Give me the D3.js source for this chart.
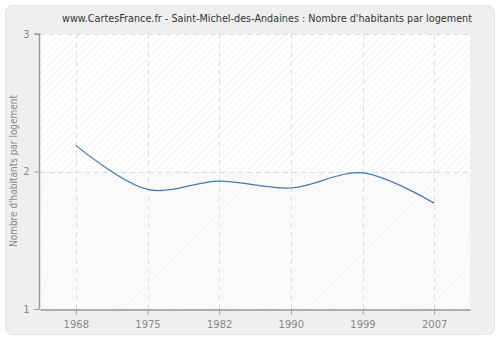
<!DOCTYPE html>
<html>
<head>
<meta charset="utf-8">
<script src="https://cdn.jsdelivr.net/npm/d3@7"></script>
<style>
  html, body { margin: 0; padding: 0; background: #ffffff; }
  svg { display: block; font-family: "DejaVu Sans", Verdana, sans-serif; }
</style>
</head>
<body>
<svg id="chart" width="500" height="340"></svg>
<script>
// Census years and average household size
const years = ["1968", "1975", "1982", "1990", "1999", "2007"];
const values = [2.19, 1.87, 1.93, 1.88, 1.99, 1.77];
const yTicks = [1, 2, 3];
const title = "www.CartesFrance.fr - Saint-Michel-des-Andaines : Nombre d'habitants par logement";
const yLabel = "Nombre d'habitants par logement";

const svg = d3.select("#chart");
const W = 500, H = 340;
const plot = { left: 40, right: 470, top: 34, bottom: 309 };

// outer panel
svg.append("rect")
  .attr("x", 5.5).attr("y", 5.5)
  .attr("width", W - 11).attr("height", H - 11)
  .attr("rx", 7).attr("ry", 7)
  .attr("fill", "#efefef")
  .attr("stroke", "#e2e2e2");

// hatch patterns for the plotting area
const defs = svg.append("defs");
function hatch(id, bg, line) {
  const p = defs.append("pattern")
    .attr("id", id)
    .attr("patternUnits", "userSpaceOnUse")
    .attr("width", 5).attr("height", 5)
    .attr("patternTransform", "rotate(-45)");
  p.append("rect").attr("width", 5).attr("height", 5).attr("fill", bg);
  p.append("line").attr("x1", 0).attr("y1", 0).attr("x2", 5).attr("y2", 0)
    .attr("stroke", line).attr("stroke-width", 1.2);
}
hatch("hatchTop", "#ffffff", "#ebebeb");
hatch("hatchBottom", "#fbfbfb", "#f1f1f1");

const x = d3.scalePoint().domain(years).range([plot.left, plot.right]).padding(0.5);
const y = d3.scaleLinear().domain([1, 3]).range([plot.bottom, plot.top]);

svg.append("rect")
  .attr("x", plot.left).attr("y", plot.top)
  .attr("width", plot.right - plot.left).attr("height", y(2) - plot.top)
  .attr("fill", "url(#hatchTop)");
svg.append("rect")
  .attr("x", plot.left).attr("y", y(2))
  .attr("width", plot.right - plot.left).attr("height", plot.bottom - y(2))
  .attr("fill", "url(#hatchBottom)");

// dashed grid
const grid = svg.append("g").attr("stroke", "#dddddd").attr("stroke-dasharray", "5,4").attr("fill", "none");
years.forEach(d => {
  grid.append("line")
    .attr("x1", Math.round(x(d)) + 0.5).attr("x2", Math.round(x(d)) + 0.5)
    .attr("y1", plot.top).attr("y2", plot.bottom);
});
yTicks.forEach(v => {
  grid.append("line")
    .attr("x1", plot.left).attr("x2", plot.right)
    .attr("y1", Math.round(y(v)) + 0.5).attr("y2", Math.round(y(v)) + 0.5);
});

// axes
const xAxis = svg.append("g")
  .attr("transform", `translate(0,${plot.bottom + 0.5})`)
  .call(d3.axisBottom(x).tickSize(5).tickPadding(6).tickSizeOuter(0));
const yAxis = svg.append("g")
  .attr("transform", `translate(${plot.left - 0.5},0)`)
  .call(d3.axisLeft(y).tickValues(yTicks).tickFormat(d3.format("d")).tickSize(5).tickPadding(5).tickSizeOuter(0));
[xAxis, yAxis].forEach(a => {
  a.select(".domain").attr("stroke", "#999999").attr("stroke-width", 1.5);
  a.selectAll(".tick line").attr("stroke", "#999999");
  a.selectAll(".tick text").attr("fill", "#888888").attr("font-size", 10)
    .attr("font-family", "'DejaVu Sans', Verdana, sans-serif");
});
yAxis.select(".domain").attr("d", `M-5,${plot.top}H0V${plot.bottom}`);

// series line
const line = d3.line()
  .x((d, i) => x(years[i]))
  .y(d => y(d))
  .curve(d3.curveCatmullRom.alpha(0.5));
svg.append("path")
  .datum(values)
  .attr("fill", "none")
  .attr("stroke", "#4a77aa")
  .attr("stroke-width", 1.2)
  .attr("d", line);

// title
svg.append("text")
  .attr("x", 62).attr("y", 22)
  .attr("font-size", 10)
  .attr("textLength", 410)
  .attr("lengthAdjust", "spacingAndGlyphs")
  .attr("fill", "#333333")
  .text(title);

// y axis title
svg.append("text")
  .attr("transform", `translate(17,171) rotate(-90)`)
  .attr("text-anchor", "middle")
  .attr("font-size", 10)
  .attr("textLength", 152)
  .attr("lengthAdjust", "spacingAndGlyphs")
  .attr("fill", "#888888")
  .text(yLabel);
</script>
</body>
</html>
